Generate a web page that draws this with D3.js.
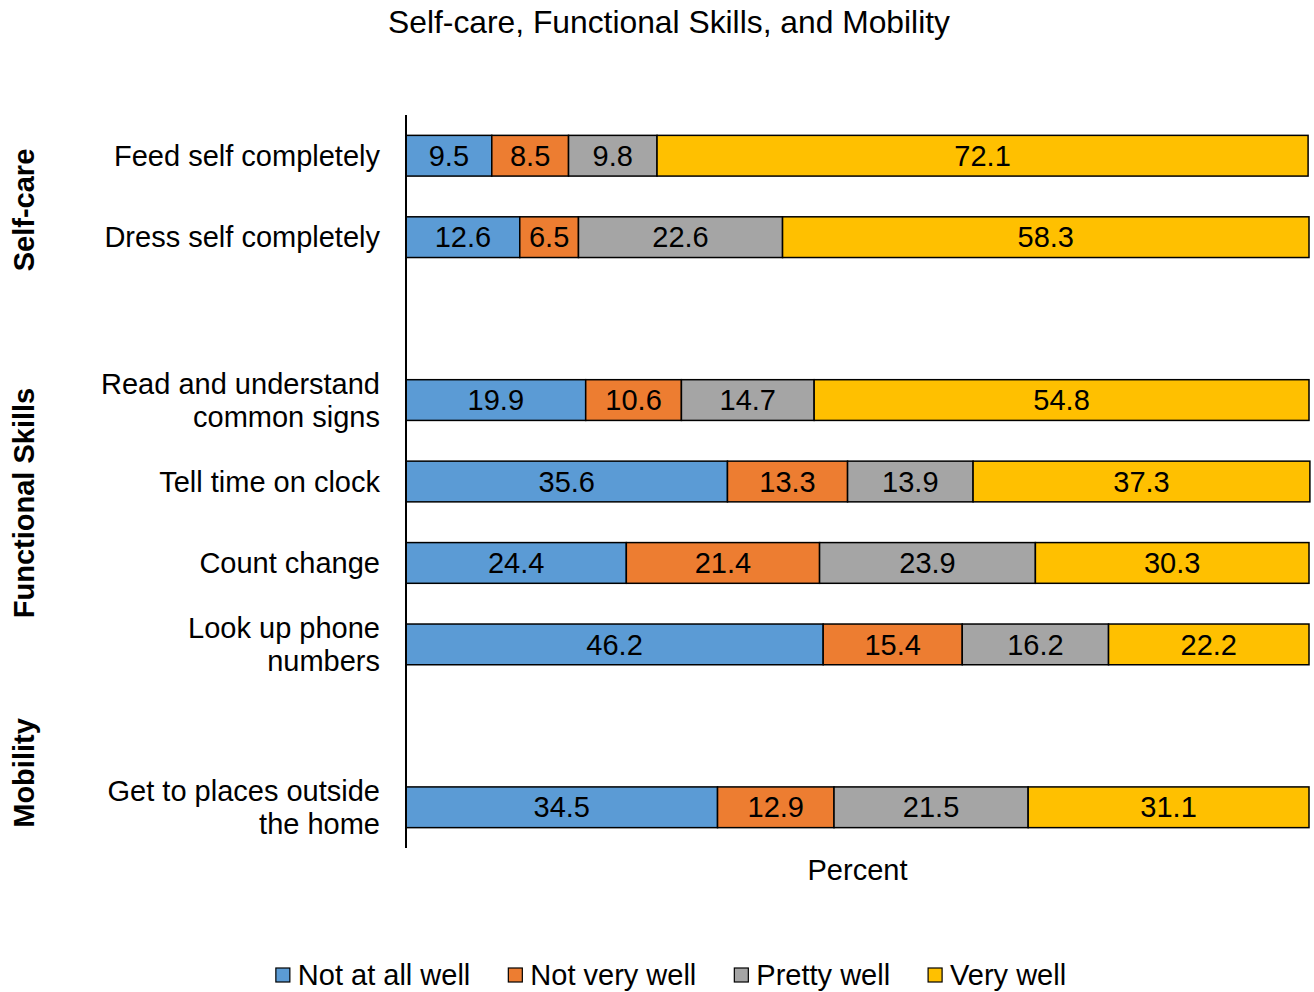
<!DOCTYPE html>
<html>
<head>
<meta charset="utf-8">
<script src="https://cdn.jsdelivr.net/npm/d3@7"></script>
<style>
  body { margin: 0; background: #fff; }
  text { font-family: "Liberation Sans", Arial, sans-serif; fill: #000; }
</style>
</head>
<body>
<div id="chart"></div>
<script>
(function () {
var categories = ["Feed self completely", "Dress self completely", "Read and understand|common signs",
  "Tell time on clock", "Count change", "Look up phone|numbers", "Get to places outside|the home"];
var groups = ["Self-care", "Self-care", "Functional Skills", "Functional Skills", "Functional Skills",
  "Functional Skills", "Mobility"];
var seriesNames = ["Not at all well", "Not very well", "Pretty well", "Very well"];
var notAtAllWell = [9.5, 12.6, 19.9, 35.6, 24.4, 46.2, 34.5];
var notVeryWell = [8.5, 6.5, 10.6, 13.3, 21.4, 15.4, 12.9];
var prettyWell = [9.8, 22.6, 14.7, 13.9, 23.9, 16.2, 21.5];
var veryWell = [72.1, 58.3, 54.8, 37.3, 30.3, 22.2, 31.1];
// row slots, blank slots separate the groups
var slots = ["Feed self completely", "Dress self completely", "gap1", "Read and understand|common signs",
  "Tell time on clock", "Count change", "Look up phone|numbers", "gap2", "Get to places outside|the home"];
var groupNames = ["Self-care", "Functional Skills", "Mobility"];
var groupY = [210, 503, 773];

var colors = ["#5B9BD5", "#ED7D31", "#A5A5A5", "#FFC000"];
var values = [notAtAllWell, notVeryWell, prettyWell, veryWell];

var width = 1314, height = 992;
var x0 = 406, x1 = 1309, yTop = 115, yBot = 848;
var fs = "29px";

var svg = d3.select("#chart").append("svg")
    .attr("width", width)
    .attr("height", height);

var x = d3.scaleLinear().domain([0, 100]).range([x0, x1]);
var y = d3.scaleBand().domain(slots).range([yTop, yBot]).paddingInner(0.5).paddingOuter(0.25);

var rows = categories.map(function (c, i) {
  var r = { cat: c };
  seriesNames.forEach(function (s, j) { r[s] = values[j][i]; });
  return r;
});
var stacked = d3.stack().keys(seriesNames)(rows);

svg.append("text")
    .attr("x", 669).attr("y", 33)
    .attr("text-anchor", "middle")
    .style("font-size", "31.8px")
    .text("Self-care, Functional Skills, and Mobility");

var layers = svg.selectAll("g.layer")
    .data(stacked)
  .enter().append("g")
    .attr("class", "layer")
    .attr("fill", function (d, i) { return colors[i]; });

layers.selectAll("rect")
    .data(function (d) { return d; })
  .enter().append("rect")
    .attr("x", function (d) { return x(d[0]); })
    .attr("y", function (d) { return y(d.data.cat); })
    .attr("width", function (d) { return x(d[1]) - x(d[0]); })
    .attr("height", y.bandwidth())
    .attr("stroke", "#000")
    .attr("stroke-width", 1.5);

layers.selectAll("text")
    .data(function (d) { return d; })
  .enter().append("text")
    .attr("x", function (d) { return (x(d[0]) + x(d[1])) / 2; })
    .attr("y", function (d) { return y(d.data.cat) + y.bandwidth() / 2; })
    .attr("dy", "0.35em")
    .attr("text-anchor", "middle")
    .style("font-size", fs)
    .text(function (d) { return (d[1] - d[0]).toFixed(1); });

// axis line
svg.append("line")
    .attr("x1", x0).attr("x2", x0)
    .attr("y1", yTop).attr("y2", yBot)
    .attr("stroke", "#000").attr("stroke-width", 2);

// category labels
categories.forEach(function (c) {
  var lines = c.split("|");
  var cy = y(c) + y.bandwidth() / 2;
  var t = svg.append("text")
      .attr("text-anchor", "end")
      .style("font-size", fs);
  lines.forEach(function (l, k) {
    t.append("tspan")
        .attr("x", 380)
        .attr("y", cy + (k - (lines.length - 1) / 2) * 33)
        .attr("dy", "0.35em")
        .text(l);
  });
});

// group labels
groupNames.forEach(function (g, i) {
  svg.append("text")
      .attr("transform", "translate(24," + groupY[i] + ") rotate(-90)")
      .attr("dy", "0.35em")
      .attr("text-anchor", "middle")
      .style("font-size", fs)
      .style("font-weight", "bold")
      .text(g);
});

svg.append("text")
    .attr("x", (x0 + x1) / 2).attr("y", 880)
    .attr("text-anchor", "middle")
    .style("font-size", fs)
    .text("Percent");

// legend
var legend = svg.append("g");
var lx = 0;
seriesNames.forEach(function (s, i) {
  var item = legend.append("g").attr("transform", "translate(" + lx + ",0)");
  item.append("rect")
      .attr("x", 0).attr("y", -7)
      .attr("width", 14).attr("height", 14)
      .attr("fill", colors[i])
      .attr("stroke", "#000").attr("stroke-width", 1.2);
  var t = item.append("text")
      .attr("x", 22).attr("dy", "0.35em")
      .style("font-size", fs)
      .text(s);
  lx += 22 + t.node().getComputedTextLength() + 38;
});
lx -= 38;
legend.attr("transform", "translate(" + ((width - lx) / 2 + 14) + ",975)");
})();
</script>
</body>
</html>
